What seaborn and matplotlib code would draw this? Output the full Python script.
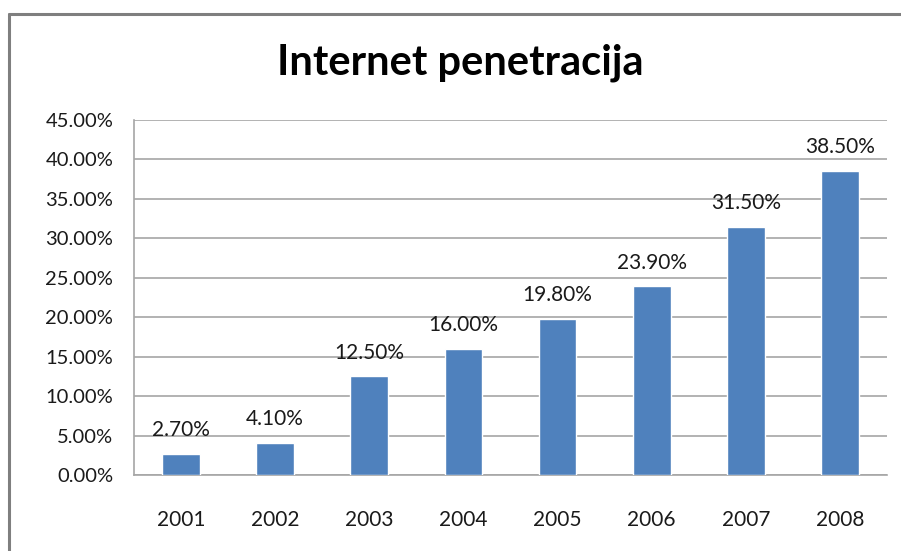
import matplotlib
matplotlib.use("Agg")
import matplotlib.pyplot as plt
from matplotlib.lines import Line2D
from matplotlib.ticker import FuncFormatter, MultipleLocator
import seaborn as sns
import pandas as pd

# Data
years = ["2001", "2002", "2003", "2004", "2005", "2006", "2007", "2008"]
penetration = [2.70, 4.10, 12.50, 16.00, 19.80, 23.90, 31.50, 38.50]
title = "Internet penetracija"

df = pd.DataFrame({"year": years, "value": penetration})

sns.set_theme(style="white")
plt.rcParams["font.family"] = ["Lato", "DejaVu Sans"]

fig = plt.figure(figsize=(9.01, 5.51), dpi=100)
ax = fig.add_axes([0.1487, 0.1379, 0.8358, 0.6443])

sns.barplot(data=df, x="year", y="value", color="#4F81BD", saturation=1,
            width=0.4, ax=ax, zorder=3)

ax.set_ylim(0, 45)
ax.yaxis.set_major_locator(MultipleLocator(5))
ax.yaxis.set_major_formatter(FuncFormatter(lambda v, p: f"{v:.2f}%"))
ax.grid(axis="y", color="#A6A6A6", linewidth=1.2, zorder=0)
ax.set_axisbelow(True)
ax.set_xlabel("")
ax.set_ylabel("")

for side in ["top", "right"]:
    ax.spines[side].set_visible(False)
for side in ["left", "bottom"]:
    ax.spines[side].set_color("#A6A6A6")
    ax.spines[side].set_linewidth(1.2)

ax.tick_params(axis="y", length=0, pad=15, labelsize=14.5, labelcolor="#1a1a1a")
ax.tick_params(axis="x", length=0, pad=25, labelsize=15, labelcolor="#1a1a1a")

for i, v in enumerate(penetration):
    ax.annotate(f"{v:.2f}%", (i, v), xytext=(0, 10), textcoords="offset points",
                ha="center", va="bottom", fontsize=15, color="#1a1a1a")

fig.text(0.511, 0.887, title, ha="center", va="center", fontsize=30,
         fontweight="bold", color="black")

# outer chart frame
fig.add_artist(Line2D([0.01, 1.0], [0.9746, 0.9746], transform=fig.transFigure,
                      color="#7F7F7F", linewidth=2.2))
fig.add_artist(Line2D([0.01, 0.01], [0.0, 0.9746], transform=fig.transFigure,
                      color="#7F7F7F", linewidth=2.2))

fig.savefig("out.png", dpi=100)
